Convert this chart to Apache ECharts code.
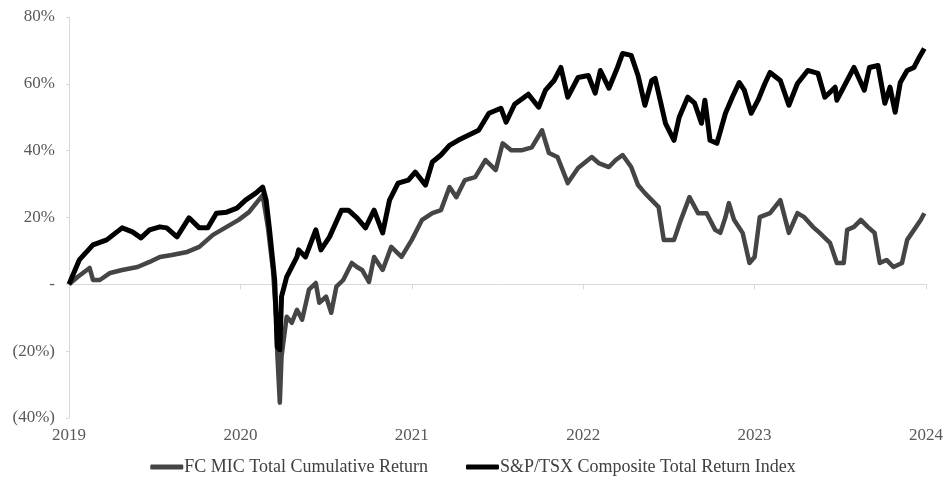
<!DOCTYPE html>
<html>
<head>
<meta charset="utf-8">
<script src="https://cdn.jsdelivr.net/npm/echarts@6/dist/echarts.min.js"></script>
<style>
html,body{margin:0;padding:0;background:#fff;}
#chart{width:946px;height:484px;}
</style>
</head>
<body>
<div id="chart"></div>
<script>
// Year ticks
const yearTicks = [2019, 2020, 2021, 2022, 2023, 2024];

// S&P/TSX Composite Total Return Index (cumulative %)
const tsxYears = [2019.00,2019.06,2019.14,2019.22,2019.31,2019.37,2019.42,2019.47,2019.53,2019.57,2019.63,2019.70,2019.76,2019.81,2019.86,2019.92,2019.98,
  2020.03,2020.09,2020.13,2020.15,2020.17,2020.20,2020.215,2020.23,2020.24,2020.27,2020.33,2020.34,2020.38,2020.44,2020.47,2020.52,2020.59,2020.63,2020.68,2020.73,2020.78,2020.83,2020.87,2020.92,2020.98,
  2021.02,2021.08,2021.12,2021.17,2021.22,2021.27,2021.33,2021.39,2021.45,2021.52,2021.55,2021.60,2021.68,2021.74,2021.78,2021.83,2021.87,2021.91,2021.97,
  2022.03,2022.07,2022.10,2022.15,2022.20,2022.23,2022.28,2022.32,2022.36,2022.40,2022.42,2022.48,2022.53,2022.56,2022.61,2022.65,2022.69,2022.71,2022.74,2022.78,2022.83,2022.87,2022.91,2022.94,2022.98,
  2023.02,2023.06,2023.09,2023.15,2023.20,2023.25,2023.31,2023.37,2023.41,2023.47,2023.48,2023.54,2023.58,2023.64,2023.67,2023.72,2023.76,2023.79,2023.82,2023.85,2023.89,2023.93,2023.96,2023.99];
const tsxValues = [0,7.3,11.8,13.3,16.9,15.7,13.9,16.3,17.2,16.9,14.2,19.9,16.9,16.9,21.3,21.6,22.8,
  25.2,27.3,29.1,25.2,16.3,1.3,-18.7,-19.6,-3.7,2.2,8.2,10.3,8.2,16.3,10.3,14.2,22.2,22.2,19.9,16.9,22.2,15.4,25.2,30.3,31.2,
  33.6,29.7,36.6,38.7,41.6,43.1,44.6,46.1,51.2,52.7,48.5,53.9,56.9,53.0,58.1,61.0,64.9,56.0,61.9,
  62.5,57.2,64.0,58.7,64.9,69.1,68.5,62.5,53.6,61.0,61.6,48.2,43.1,50.0,56.0,54.2,48.2,55.1,43.1,42.2,51.2,56.0,60.4,58.1,51.2,
  55.1,60.1,63.4,61.0,53.6,60.1,64.0,63.1,56.0,59.0,55.1,61.0,64.9,58.1,64.9,65.5,54.2,59.0,51.5,60.4,64.0,64.9,67.9,70.6];

// FC MIC Total Cumulative Return (cumulative %)
const micYears = [2019.00,2019.05,2019.12,2019.14,2019.18,2019.24,2019.31,2019.40,2019.47,2019.53,2019.60,2019.69,2019.76,2019.84,2019.92,2019.99,
  2020.05,2020.13,2020.16,2020.19,2020.21,2020.215,2020.23,2020.24,2020.27,2020.30,2020.33,2020.36,2020.40,2020.44,2020.46,2020.50,2020.53,2020.56,2020.60,2020.65,2020.68,2020.71,2020.75,2020.78,2020.83,2020.88,2020.94,
  2021.00,2021.06,2021.12,2021.17,2021.22,2021.26,2021.31,2021.37,2021.43,2021.49,2021.53,2021.58,2021.64,2021.70,2021.76,2021.80,2021.85,2021.91,2021.97,
  2022.05,2022.09,2022.15,2022.19,2022.23,2022.28,2022.32,2022.36,2022.40,2022.44,2022.47,2022.53,2022.57,2022.62,2022.67,2022.72,2022.77,2022.80,2022.83,2022.85,2022.88,2022.93,2022.97,
  2023.00,2023.03,2023.09,2023.15,2023.20,2023.25,2023.29,2023.34,2023.38,2023.44,2023.48,2023.52,2023.54,2023.58,2023.62,2023.66,2023.70,2023.73,2023.77,2023.81,2023.86,2023.89,2023.93,2023.97,2023.99];
const micValues = [0,2.2,4.9,1.3,1.3,3.4,4.3,5.2,6.7,8.2,8.8,9.7,11.2,14.8,17.2,19.3,
  21.6,26.7,17.2,4.3,-10.6,-20.4,-35.4,-21.6,-9.7,-11.5,-7.6,-10.6,-1.6,0.4,-5.5,-3.7,-8.5,-0.7,1.3,6.4,5.2,4.3,0.7,8.2,4.3,11.2,8.2,
  13.3,19.3,21.3,22.2,29.1,26.1,31.2,32.1,37.2,34.2,42.2,40.1,40.1,41.0,46.1,39.3,38.1,30.3,34.8,
  38.1,36.3,35.1,37.2,38.7,35.1,29.7,27.3,25.2,23.1,13.3,13.3,19.3,26.1,21.3,21.3,16.3,15.4,20.1,24.3,19.3,15.4,6.4,
  8.2,20.1,21.3,25.2,15.4,21.3,20.1,17.2,15.4,12.4,6.4,6.4,16.3,17.2,19.3,17.2,15.4,6.4,7.3,5.2,6.4,13.3,16.3,19.3,21.3];

const zip = (xs, ys) => xs.map((x, i) => [x, ys[i]]);

const chart = echarts.init(document.getElementById('chart'));
const serif = '"Liberation Serif", "Times New Roman", serif';
const axisGray = '#d9d9d9';

chart.setOption({
  animation: false,
  backgroundColor: '#ffffff',
  grid: { left: 69, right: 17, top: 17, bottom: 66 },
  legend: {
    data: ['FC MIC Total Cumulative Return', 'S&P/TSX Composite Total Return Index'],
    bottom: 3,
    left: 'center',
    itemWidth: 33,
    itemHeight: 5,
    itemGap: 38,
    icon: 'roundRect',
    textStyle: { fontFamily: serif, fontSize: 18, color: '#404040', padding: [0, 0, 0, -4] }
  },
  xAxis: [
    {
      type: 'value', min: yearTicks[0], max: yearTicks[yearTicks.length - 1], interval: 1,
      position: 'bottom',
      axisLine: { show: false, onZero: false },
      axisTick: { show: false },
      splitLine: { show: false },
      axisLabel: { fontFamily: serif, fontSize: 17, color: '#595959', margin: 9,
        formatter: v => String(Math.round(v)) }
    },
    {
      type: 'value', min: yearTicks[0], max: yearTicks[yearTicks.length - 1], interval: 1,
      position: 'bottom',
      axisLine: { show: true, onZero: true, lineStyle: { color: axisGray, width: 1 } },
      axisTick: { show: true, length: 5, lineStyle: { color: axisGray } },
      axisLabel: { show: false },
      splitLine: { show: false }
    }
  ],
  yAxis: {
    type: 'value', min: -40, max: 80, interval: 20,
    axisLine: { show: true, onZero: false, lineStyle: { color: axisGray, width: 1 } },
    axisTick: { show: true, length: 3, lineStyle: { color: axisGray } },
    splitLine: { show: false },
    axisLabel: {
      fontFamily: serif, fontSize: 17, color: '#595959', margin: 14,
      formatter: v => v === 0 ? '-' : (v < 0 ? '(' + Math.abs(v) + '%)' : v + '%')
    }
  },
  series: [
    {
      name: 'FC MIC Total Cumulative Return', type: 'line', xAxisIndex: 0,
      data: zip(micYears, micValues), showSymbol: false, symbol: 'none',
      itemStyle: { color: '#454545' },
      lineStyle: { color: '#454545', width: 4.5, join: 'round' },
      z: 2
    },
    {
      name: 'S&P/TSX Composite Total Return Index', type: 'line', xAxisIndex: 0,
      data: zip(tsxYears, tsxValues), showSymbol: false, symbol: 'none',
      itemStyle: { color: '#000000' },
      lineStyle: { color: '#000000', width: 5, join: 'round' },
      z: 3
    }
  ]
});
</script>
</body>
</html>
